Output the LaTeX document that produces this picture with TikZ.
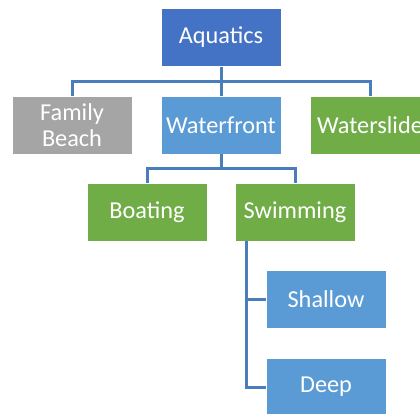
\documentclass[tikz,border=0pt]{standalone}
\usepackage{fontspec}
\setmainfont{Carlito}
\definecolor{dblue}{HTML}{4472C4}
\definecolor{lblue}{HTML}{5B9BD5}
\definecolor{lgreen}{HTML}{70AD47}
\definecolor{lgray}{HTML}{A5A5A5}
\definecolor{conn}{HTML}{4A7EBB}
\tikzset{
  box/.style={draw=white, line width=0.8pt, minimum width=120pt, minimum height=58pt,
    inner sep=2pt, outer sep=0pt, text=white, align=center,
    font=\fontsize{24.3}{26}\selectfont},
  link/.style={draw=conn, line width=3pt}
}
\begin{document}
\begin{tikzpicture}[x=1pt,y=-1pt]
\useasboundingbox (0,0) rectangle (420,413);
\node[box, fill=dblue] (aq) at (221,37.5) {Aquatics};
\node[box, fill=lgray] (fb) at (72,125) {Family\\Beach};
\node[box, fill=lblue] (wf) at (221,125) {Waterfront};
\node[box, fill=lgreen] (ws) at (370,125) {Waterslide};
\node[box, fill=lgreen] (bo) at (147,212) {Boating};
\node[box, fill=lgreen] (sw) at (295,212) {Swimming};
\node[box, fill=lblue] (sh) at (326,299.5) {Shallow};
\node[box, fill=lblue] (de) at (326,387) {Deep};
\coordinate (b1) at (221,81);
\coordinate (b2) at (221,168);
\coordinate (s0) at (246,241);
\draw[link] (aq.south) -- (wf.north);
\draw[link] (fb.north) |- (b1) -| (ws.north);
\draw[link] (wf.south) -- (b2);
\draw[link] (bo.north) |- (b2) -| (sw.north);
\draw[link] (s0) |- (de.west);
\draw[link] (s0 |- sh.west) -- (sh.west);
\end{tikzpicture}
\end{document}
